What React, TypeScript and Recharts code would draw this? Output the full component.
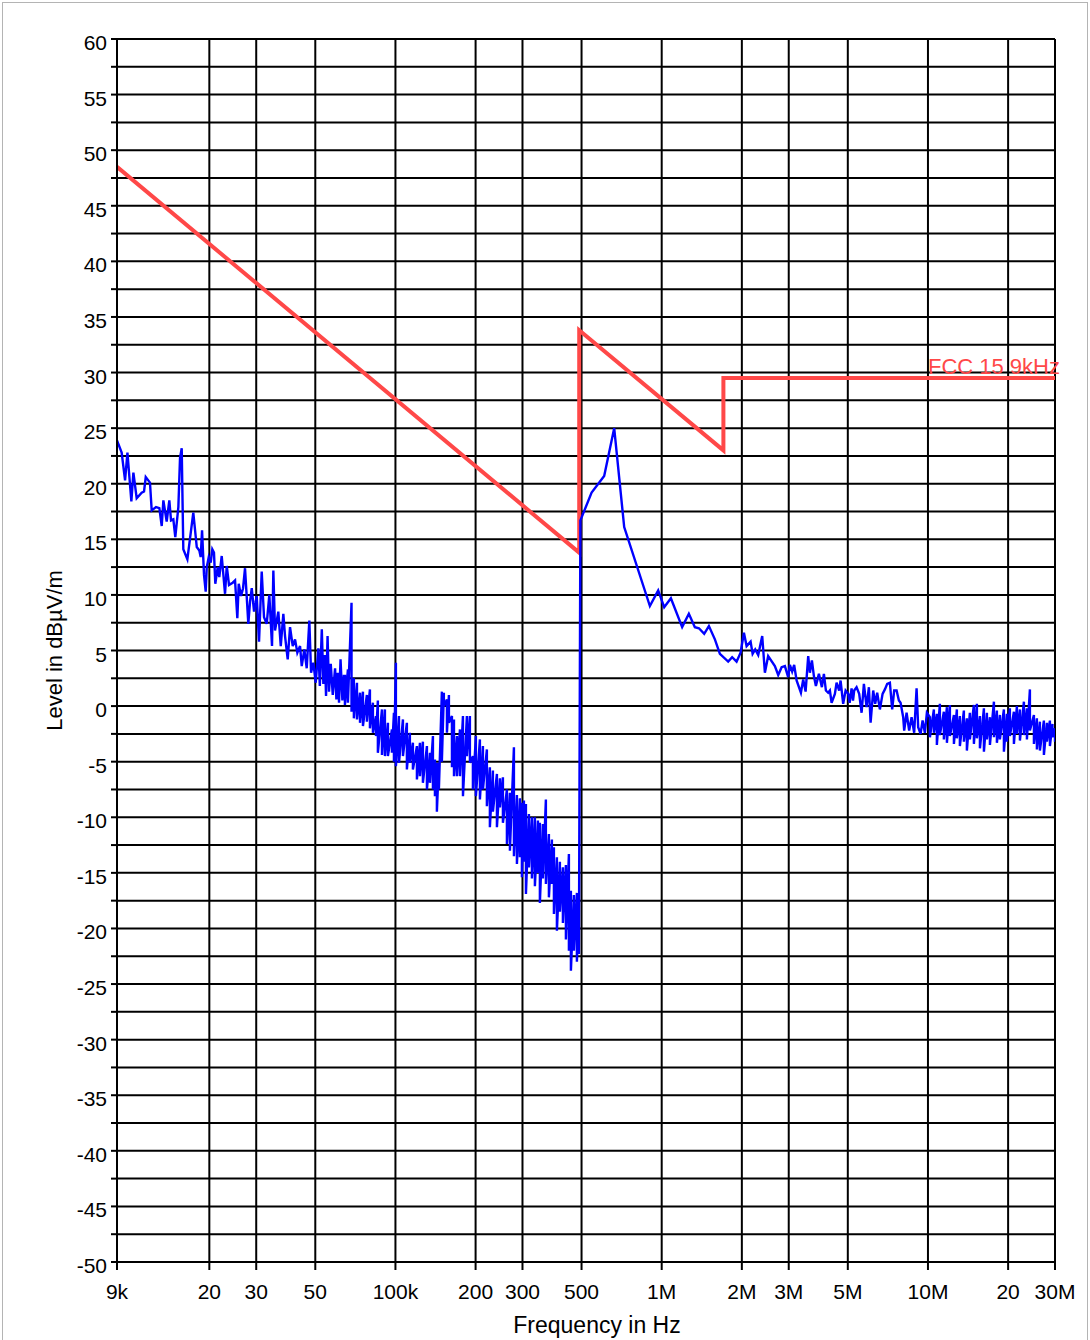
import { CartesianGrid, Line, LineChart, ReferenceDot, XAxis, YAxis } from "recharts";

// EMI scan vs. FCC part 15 limit, 9 kHz .. 30 MHz (frequency in kHz, level in dBµV/m)
const FONT = '"Liberation Sans", Arial, Helvetica, sans-serif';
const COLORS = {
  trace: "#0000ff",
  limit: "#ff4848",
  grid: "#000000",
  frame: "#b4b4b4",
};

const X_TICKS = [9, 20, 30, 50, 100, 200, 300, 500, 1000, 2000, 3000, 5000, 10000, 20000, 30000];
const X_LABELS = ["9k", "20", "30", "50", "100k", "200", "300", "500", "1M", "2M", "3M", "5M", "10M", "20", "30M"];
const Y_TICKS = [
  -50, -47.5, -45, -42.5, -40, -37.5, -35, -32.5, -30, -27.5, -25, -22.5, -20, -17.5, -15, -12.5, -10,
  -7.5, -5, -2.5, 0, 2.5, 5, 7.5, 10, 12.5, 15, 17.5, 20, 22.5, 25, 27.5, 30, 32.5, 35, 37.5, 40,
  42.5, 45, 47.5, 50, 52.5, 55, 57.5, 60,
];

// limit line corners
const LIMIT_KHZ = [9, 490, 490, 1705, 1705, 30000];
const LIMIT_DB = [48.5, 13.8, 33.8, 23.0, 29.5, 29.5];
const LIMIT_NAME = "FCC 15 9kHz";

// 9k .. 64k, single readings
const SCAN_LOW = [
  [9.0, 23.9], [9.37, 22.8], [9.65, 20.3], [9.85, 22.8], [10.19, 18.4], [10.37, 21.0], [10.67, 18.7],
  [11.14, 19.2], [11.37, 19.3], [11.54, 20.6], [11.97, 20.1], [12.15, 17.6], [12.61, 17.9], [12.98, 17.8],
  [13.25, 16.2], [13.44, 18.5], [13.83, 16.6], [14.15, 18.5], [14.36, 16.7], [14.65, 16.8], [14.9, 15.2],
  [15.3, 17.9], [15.52, 22.3], [15.75, 23.2], [15.97, 14.1], [16.54, 13.2], [17.41, 17.4], [17.94, 14.3],
  [18.34, 14.0], [18.56, 13.4], [18.78, 15.8], [19.1, 11.8], [19.38, 10.3], [19.56, 12.5], [19.9, 13.4],
  [20.24, 12.9], [20.52, 14.1], [20.82, 13.8], [21.06, 11.0], [21.5, 12.5], [21.8, 11.6], [22.26, 13.5],
  [22.91, 10.1], [23.25, 12.6], [23.71, 10.9], [24.48, 11.1], [24.98, 11.3], [25.48, 7.9], [25.79, 11.0],
  [26.31, 9.9], [26.77, 10.6], [27.23, 12.4], [27.64, 9.8], [28.02, 7.4], [28.44, 9.4], [28.86, 10.6],
  [29.44, 8.5], [30.13, 9.9], [30.74, 5.8], [31.46, 12.1], [32.09, 8.0], [32.85, 7.4], [33.6, 10.0],
  [34.39, 5.4], [34.79, 12.2], [35.3, 6.8], [36.32, 8.5], [37.09, 5.4], [37.93, 8.3], [38.49, 6.3],
  [39.39, 4.2], [40.19, 7.1], [41.14, 5.4], [41.97, 6.0], [42.81, 4.8], [43.82, 5.4], [44.47, 3.6],
  [45.48, 5.1], [46.43, 3.4], [47.49, 7.7], [48.2, 3.0], [49.16, 3.9], [50.19, 2.1], [51.34, 5.2],
  [52.0, 1.8], [52.9, 6.9], [53.61, 2.0], [54.3, 4.6], [54.87, 0.9], [55.6, 6.3], [56.3, 1.3],
  [57.15, 3.8], [58.15, 1.0], [59.33, 3.4], [60.0, 0.6], [60.72, 3.0], [61.4, 0.3], [62.2, 4.2],
  [63.2, 0.5], [64.0, 2.7],
];

// 64k .. 490k, dense: [kHz, upper, lower]
const SCAN_MID = [
  [64.6, 2.7, 0.1], [66.3, 3.3, 0.3], [68.4, 9.3, -0.5], [69.8, 2.5, -1.1], [71.7, 2.1, -1.2],
  [73.6, 1.2, -1.5], [75.5, 1.3, -1.8], [78.1, 1.0, -1.4], [80.2, 1.5, -2.0], [82.3, 0.3, -2.4],
  [84.5, -0.9, -2.7], [85.9, 0.5, -4.2], [89.0, -0.3, -4.4], [91.3, -0.3, -4.5], [93.7, -1.5, -4.5],
  [97.0, -2.1, -4.2], [98.7, -0.6, -5.0], [100.4, 3.9, -5.4], [103.1, -0.9, -5.1], [106.7, -1.2, -4.5],
  [110.4, -1.5, -5.7], [113.3, -2.4, -5.1], [116.3, -3.3, -5.7], [120.4, -3.6, -6.6], [123.6, -3.3, -6.3],
  [126.8, -3.2, -6.9], [131.3, -3.6, -7.5], [134.8, -4.2, -6.9], [138.3, -2.7, -7.5], [140.7, -4.8, -8.1],
  [143.1, -5.1, -9.5], [145.6, -5.1, -7.5], [149.4, 1.3, -5.0], [152.0, 1.2, 0.0], [156.1, 0.6, -2.4],
  [158.8, 1.0, -1.5], [163.0, -0.9, -5.5], [165.9, -1.2, -6.3], [170.2, -2.7, -6.3], [174.7, -2.1, -6.3],
  [179.3, -0.9, -8.1], [185.5, -0.9, -4.5], [190.4, -0.9, -5.1], [195.4, -4.5, -7.5], [200.5, -2.7, -8.1],
  [207.6, -3.0, -8.4], [213.1, -3.6, -7.5], [220.5, -3.9, -9.0], [226.3, -5.5, -10.9], [232.3, -5.8, -9.5],
  [240.5, -6.1, -10.9], [246.8, -6.5, -9.1], [253.3, -6.4, -10.5], [262.2, -7.5, -12.4], [269.1, -7.8, -13.0],
  [278.6, -3.7, -13.5], [285.9, -8.0, -14.2], [293.4, -8.3, -13.6], [298.5, -8.7, -15.4], [303.8, -8.5, -14.0],
  [309.1, -8.8, -16.9], [317.2, -9.7, -14.5], [325.5, -10.0, -15.5], [334.0, -10.0, -16.2], [342.8, -10.3, -15.0],
  [348.7, -10.5, -17.7], [357.9, -10.6, -15.5], [367.3, -8.4, -16.0], [377.0, -11.5, -17.2], [386.9, -12.0, -16.0],
  [393.7, -12.7, -18.7], [404.0, -13.6, -20.2], [414.6, -14.0, -18.5], [425.5, -14.5, -19.5], [436.7, -14.3, -21.0],
  [448.2, -13.3, -22.0], [456.0, -16.6, -23.8], [468.0, -17.0, -22.0], [480.3, -16.8, -23.0], [488.7, -17.2, -22.3],
];

// 495k .. 9.9M, single readings
const SCAN_C = [
  [495, 16.7], [545.4, 19.2], [608.1, 20.7], [663.1, 25.0], [723, 16.1], [902.8, 9.0], [970, 10.4],
  [1021.7, 8.9], [1082.7, 9.7], [1193.5, 7.1], [1264.8, 8.3], [1332, 7.1], [1380, 7.0], [1444, 6.5],
  [1504, 7.2], [1584, 6.0], [1654, 4.7], [1777, 4.0], [1839, 4.4], [1911, 4.0], [1978, 4.8], [2036, 6.6],
  [2084, 5.4], [2157, 5.8], [2195, 4.7], [2245, 5.1], [2304, 4.6], [2385, 6.3], [2441, 3.0], [2511, 4.5],
  [2661, 3.6], [2739, 2.8], [2821, 3.5], [2902, 3.6], [2985, 2.6], [3030, 3.7], [3090, 3.1], [3144, 3.7],
  [3211, 2.3], [3333, 1.2], [3400, 2.4], [3471, 1.3], [3550, 4.5], [3602, 3.0], [3665, 4.1], [3729, 2.7],
  [3794, 1.8], [3894, 2.9], [3996, 1.7], [4066, 2.9], [4137, 1.4], [4219, 1.2], [4282, 1.4], [4346, 0.3],
  [4471, 1.1], [4537, 2.1], [4640, 1.4], [4697, 2.3], [4804, 0.2], [4905, 1.4], [5016, 1.1], [5080, 0.3],
  [5166, 1.6], [5230, 0.5], [5283, 1.4], [5394, 1.7], [5517, 1.1], [5633, -0.6], [5746, 2.0], [5882, -0.1],
  [6000, 1.7], [6089, -1.5], [6228, 1.4], [6336, 0.2], [6446, 1.2], [6598, -0.3], [6754, 1.1], [6890, 1.5],
  [7028, 2.0], [7194, 2.1], [7339, -0.3], [7467, 1.4], [7624, 1.4], [7777, 0.5], [7891, 0.3], [8072, -1.0],
  [8141, -2.2], [8313, -0.6], [8500, -2.2], [8680, -1.0], [8876, -2.4], [9063, 1.6], [9189, -1.9],
  [9381, -2.5], [9546, -1.3], [9737, -2.4], [9907, -0.6],
];

// 10M .. 30M, dense: [kHz, upper, lower]
const SCAN_HIGH = [
  [10168, -1.0, -2.8], [10526, -0.3, -2.4], [10800, -0.7, -3.5], [11084, 0.2, -2.6], [11475, -0.5, -3.0],
  [11780, -0.1, -3.3], [12090, 0.1, -2.7], [12516, -0.8, -3.4], [12840, -0.3, -2.9], [13178, -0.9, -3.6],
  [13643, -0.4, -3.2], [14000, -1.1, -4.0], [14368, -0.6, -3.0], [14875, 0.1, -3.4], [15270, 0.2, -2.9],
  [15672, -0.9, -3.8], [16224, -0.2, -4.1], [16650, -0.6, -3.0], [17088, -1.0, -3.5], [17691, 0.4, -2.8],
  [18150, -0.4, -3.3], [18627, -0.8, -3.0], [19284, -0.3, -4.1], [19790, -0.7, -3.2], [20310, -0.2, -2.7],
  [21027, -0.5, -3.4], [21580, 0.0, -2.5], [22148, -0.3, -3.1], [22929, 0.4, -2.6], [23530, -0.2, -3.0],
  [24149, 1.5, -2.2], [25001, -0.8, -3.4], [25650, -1.1, -3.9], [26325, -1.4, -4.0], [27253, -1.3, -4.4],
  [27970, -1.5, -3.2], [28706, -1.3, -3.6], [29350, -1.6, -2.8], [30000, -2.0, -3.2],
];

const limitData = LIMIT_KHZ.map((f, i) => ({ f, limit: LIMIT_DB[i] }));
const single = (rows: number[][]) => rows.map(([f, v]) => ({ f, level: v }));
const band = (rows: number[][]) => rows.flatMap(([f, hi, lo]) => [{ f, level: hi }, { f, level: lo }]);
const scanData = [...single(SCAN_LOW), ...band(SCAN_MID), ...single(SCAN_C), ...band(SCAN_HIGH)];

function XTick({ x, y, payload }: any) {
  const label = X_LABELS[X_TICKS.indexOf(payload.value)];
  return (
    <text x={x} y={y} dy={27} textAnchor="middle" fontSize={21} fontFamily={FONT} fill="#000">
      {label}
    </text>
  );
}

function YTick({ x, y, payload }: any) {
  if (payload.value % 5 !== 0) return <g />;
  return (
    <text x={x} y={y} dy={11} textAnchor="end" fontSize={21} fontFamily={FONT} fill="#000">
      {payload.value}
    </text>
  );
}

function YTitle({ viewBox }: any) {
  const x = viewBox.x + 5;
  const y = viewBox.y + viewBox.height / 2;
  return (
    <text x={x} y={y} transform={`rotate(-90 ${x} ${y})`} textAnchor="middle" fontSize={22} fontFamily={FONT} fill="#000">
      Level in dBµV/m
    </text>
  );
}

function XTitle({ viewBox }: any) {
  const x = viewBox.x + viewBox.width / 2 + 11;
  const y = viewBox.y + viewBox.height + 41;
  return (
    <text x={x} y={y} textAnchor="middle" fontSize={23} fontFamily={FONT} fill="#000">
      Frequency in Hz
    </text>
  );
}

function LimitName({ cx, cy }: any) {
  return (
    <text x={cx + 5} y={cy - 4} textAnchor="end" fontSize={22} fontFamily={FONT} fill={COLORS.limit}>
      {LIMIT_NAME}
    </text>
  );
}

export default function App() {
  return (
    <div style={{ position: "absolute", left: 0, top: 0, width: 1090, height: 1340, background: "#fff" }}>
      <div
        style={{
          position: "absolute",
          left: 2,
          top: 2,
          width: 1084,
          height: 1360,
          border: `1px solid ${COLORS.frame}`,
        }}
      />
      <LineChart width={1090} height={1340} margin={{ top: 39, right: 35, bottom: 48, left: 57 }}>
        <CartesianGrid stroke={COLORS.grid} strokeWidth={2} />
        <XAxis
          type="number"
          dataKey="f"
          scale="log"
          domain={[9, 30000]}
          allowDataOverflow
          ticks={X_TICKS}
          interval={0}
          height={30}
          tickSize={8}
          tickMargin={2}
          tick={<XTick />}
          tickLine={{ stroke: COLORS.grid, strokeWidth: 2 }}
          axisLine={{ stroke: COLORS.grid, strokeWidth: 2 }}
          label={XTitle}
        />
        <YAxis
          type="number"
          domain={[-50, 60]}
          allowDataOverflow
          ticks={Y_TICKS}
          interval={0}
          width={60}
          tickSize={6}
          tickMargin={4}
          tick={<YTick />}
          tickLine={{ stroke: COLORS.grid, strokeWidth: 2 }}
          axisLine={{ stroke: COLORS.grid, strokeWidth: 2 }}
          label={YTitle}
        />
        <Line
          data={limitData}
          dataKey="limit"
          type="linear"
          stroke={COLORS.limit}
          strokeWidth={4}
          dot={false}
          isAnimationActive={false}
        />
        <Line
          data={scanData}
          dataKey="level"
          type="linear"
          stroke={COLORS.trace}
          strokeWidth={2.4}
          strokeLinejoin="miter"
          dot={false}
          isAnimationActive={false}
        />
        <ReferenceDot x={30000} y={29.5} r={0} shape={LimitName} />
      </LineChart>
    </div>
  );
}
